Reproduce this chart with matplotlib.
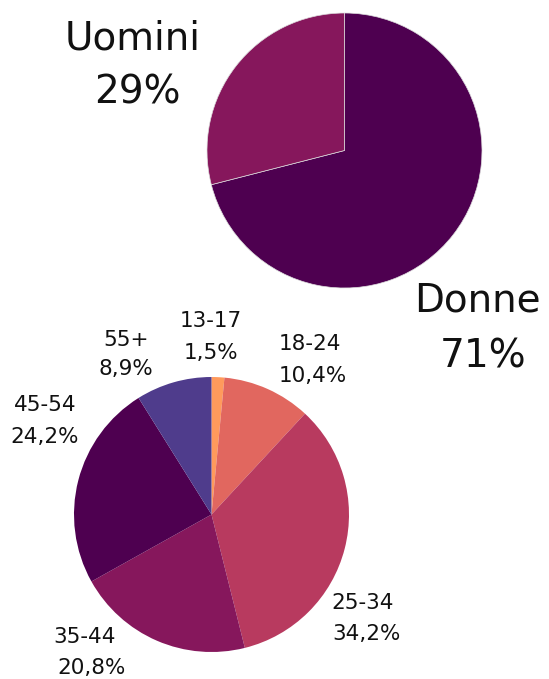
import matplotlib
matplotlib.use("Agg")
import matplotlib.pyplot as plt

# gender split
gender_labels = ["Donne", "Uomini"]
gender_values = [71, 29]
gender_texts = ["71%", "29%"]
gender_colors = ["#4e0050", "#86175c"]

# age split
age_labels = ["13-17", "18-24", "25-34", "35-44", "45-54", "55+"]
age_values = [1.5, 10.4, 34.2, 20.8, 24.2, 8.9]
age_texts = ["1,5%", "10,4%", "34,2%", "20,8%", "24,2%", "8,9%"]
age_colors = ["#ff9a5c", "#e1675f", "#b83a5f", "#86175c", "#4e0050", "#4f3c8c"]

W, H = 549, 679
DPI = 100

fig = plt.figure(figsize=(W / DPI, H / DPI), dpi=DPI)
plt.rcParams["font.family"] = ["DejaVu Sans"]


def pie_axes(cx, cy, r):
    """Place a square axes so the pie of radius 1 lands at pixel centre (cx, cy) with radius r."""
    ax = fig.add_axes([(cx - r) / W, 1 - (cy + r) / H, 2 * r / W, 2 * r / H])
    return ax


def fix_limits(ax):
    # pie() resets limits to +-1.25, pull them back so radius fills the box
    ax.set_xlim(-1, 1)
    ax.set_ylim(-1, 1)
    ax.set_aspect("equal")
    ax.axis("off")


def label(x, y, s, size):
    fig.text(x / W, 1 - y / H, s, ha="center", va="center", fontsize=size, color="#111111")


ax1 = pie_axes(344.5, 150.5, 137.5)
ax1.pie(gender_values, colors=gender_colors, startangle=90, counterclock=False,
        radius=1, wedgeprops=dict(linewidth=0.5, edgecolor="#dddddd"))
fix_limits(ax1)

ax2 = pie_axes(211.5, 514.5, 137.5)
ax2.pie(age_values, colors=age_colors, startangle=90, counterclock=False,
        radius=1, wedgeprops=dict(linewidth=0))
fix_limits(ax2)

# big labels
big = 28
label(133, 39, gender_labels[1], big)
label(137, 92, gender_texts[1], big)
label(477, 300, gender_labels[0], big)
label(483, 357, gender_texts[0], big)

# age labels
small = 15.5
age_pos = [
    ((211, 321), (211, 353)),
    ((310, 344), (313, 376)),
    ((363, 603), (366, 634)),
    ((85, 637), (92, 668)),
    ((45, 405), (45, 437)),
    ((126, 340), (126, 369)),
]
for lab, txt, (p1, p2) in zip(age_labels, age_texts, age_pos):
    label(p1[0], p1[1], lab, small)
    label(p2[0], p2[1], txt, small)

fig.savefig("out.png", dpi=DPI)
